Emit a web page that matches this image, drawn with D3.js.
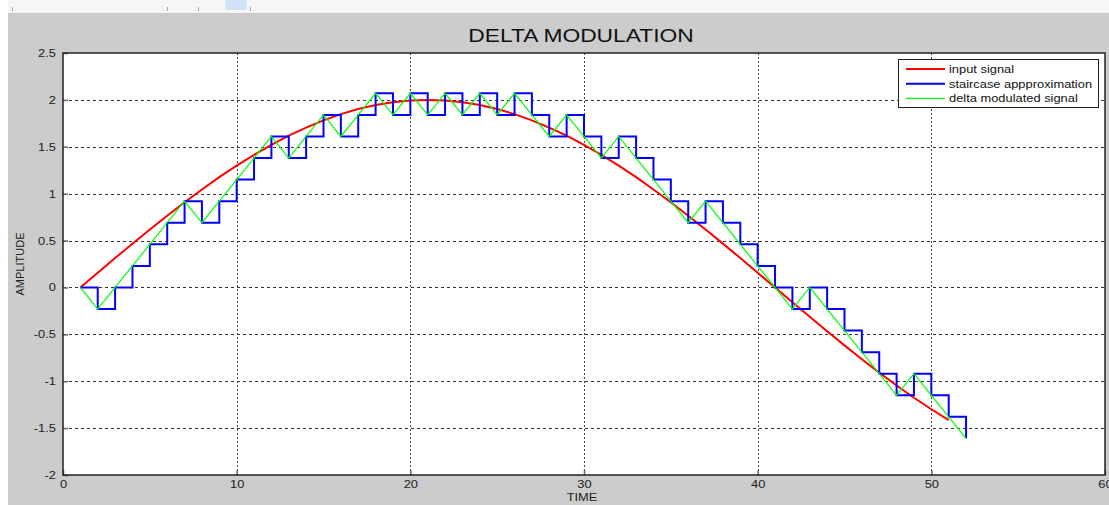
<!DOCTYPE html>
<html>
<head>
<meta charset="utf-8">
<script src="https://cdn.jsdelivr.net/npm/d3@7"></script>
<style>
  html, body { margin: 0; padding: 0; background: #ffffff; }
  svg { display: block; font-family: "Liberation Sans", Arial, sans-serif; }
</style>
</head>
<body>
<div id="chart"></div>
<script>
// sample index (time axis)
const inputTime = [1,2,3,4,5,6,7,8,9,10,11,12,13,14,15,16,17,18,19,20,21,22,23,24,25,26,27,28,29,30,
  31,32,33,34,35,36,37,38,39,40,41,42,43,44,45,46,47,48,49,50,51];
// input signal
const inputSignal = [0, 0.157, 0.313, 0.467, 0.618, 0.765, 0.908, 1.045, 1.176, 1.299, 1.414,
  1.521, 1.618, 1.705, 1.782, 1.848, 1.902, 1.945, 1.975, 1.994, 2.0,
  1.994, 1.975, 1.945, 1.902, 1.848, 1.782, 1.705, 1.618, 1.521, 1.414,
  1.299, 1.176, 1.045, 0.908, 0.765, 0.618, 0.467, 0.313, 0.157, 0,
  -0.157, -0.313, -0.467, -0.618, -0.765, -0.908, -1.045, -1.176, -1.299, -1.414];

const dmTime = [1,2,3,4,5,6,7,8,9,10,11,12,13,14,15,16,17,18,19,20,21,22,23,24,25,26,27,28,29,30,
  31,32,33,34,35,36,37,38,39,40,41,42,43,44,45,46,47,48,49,50,51,52];
// staircase / delta modulated levels (step about 0.23)
const dmSignal = [0, -0.23, 0, 0.23, 0.46, 0.69, 0.92, 0.69, 0.92, 1.15, 1.38, 1.61, 1.38, 1.61,
  1.84, 1.61, 1.84, 2.07, 1.84, 2.07, 1.84, 2.07, 1.84, 2.07, 1.84, 2.07, 1.84, 1.61, 1.84, 1.61,
  1.38, 1.61, 1.38, 1.15, 0.92, 0.69, 0.92, 0.69, 0.46, 0.23, 0, -0.23, 0, -0.23, -0.46, -0.69,
  -0.92, -1.15, -0.92, -1.15, -1.38, -1.61];

const xTicks = [0, 10, 20, 30, 40, 50, 60];
const yTicks = [-2, -1.5, -1, -0.5, 0, 0.5, 1, 1.5, 2, 2.5];
const legendLabels = ['input signal', 'staircase appproximation', 'delta modulated signal'];
const legendColors = ['#ff0000', '#0000ff', '#00ff00'];

const width = 1109, height = 505;
const plot = { left: 63, right: 1105, top: 53, bottom: 475 };
const stretch = 1.17; // the screenshot text is a bit wide

const svg = d3.select('#chart').append('svg')
  .attr('width', width)
  .attr('height', height);

// window chrome + figure background
svg.append('rect').attr('width', width).attr('height', height).attr('fill', '#ffffff');
svg.append('rect').attr('x', 8).attr('y', 0).attr('width', width - 8).attr('height', 13).attr('fill', '#f6f6f6');
svg.append('line').attr('x1', 8).attr('x2', width).attr('y1', 13.5).attr('y2', 13.5).attr('stroke', '#c8c8c8');
[12, 167, 198, 250].forEach(x => {
  svg.append('line').attr('x1', x + 0.5).attr('x2', x + 0.5).attr('y1', 7).attr('y2', 11).attr('stroke', '#aaa');
});
svg.append('rect').attr('x', 225).attr('y', 0).attr('width', 22).attr('height', 10).attr('rx', 3).attr('fill', '#cfe3f7');
svg.append('rect').attr('x', 8).attr('y', 14).attr('width', width - 8).attr('height', height - 14).attr('fill', '#cccccc');

const x = d3.scaleLinear().domain([0, 60]).range([plot.left, plot.right]);
const y = d3.scaleLinear().domain([-2, 2.5]).range([plot.bottom, plot.top]);

// axes area
svg.append('rect')
  .attr('x', plot.left).attr('y', plot.top)
  .attr('width', plot.right - plot.left).attr('height', plot.bottom - plot.top)
  .attr('fill', '#ffffff');

// grid
const grid = svg.append('g');
grid.selectAll('.vg').data(xTicks.slice(1, -1)).join('line')
  .attr('x1', d => Math.round(x(d)) + 0.5).attr('x2', d => Math.round(x(d)) + 0.5)
  .attr('y1', plot.top).attr('y2', plot.bottom)
  .attr('stroke', '#444').attr('stroke-width', 1).attr('stroke-dasharray', '2,2');
grid.selectAll('.hg').data(yTicks.slice(1, -1)).join('line')
  .attr('x1', plot.left).attr('x2', plot.right)
  .attr('y1', d => Math.round(y(d)) + 0.5).attr('y2', d => Math.round(y(d)) + 0.5)
  .attr('stroke', '#333').attr('stroke-width', 1).attr('stroke-dasharray', '3,3');

// axes (ticks inward)
const xAxis = d3.axisBottom(x).tickValues(xTicks).tickSize(-5).tickPadding(5).tickFormat(d3.format('d'));
const yAxis = d3.axisLeft(y).tickValues(yTicks).tickSize(-5).tickPadding(5).tickFormat(d => String(d));

const gx = svg.append('g').attr('transform', `translate(0,${plot.bottom})`).call(xAxis);
const gy = svg.append('g').attr('transform', `translate(${plot.left},0)`).call(yAxis);
[gx, gy].forEach(g => {
  g.select('.domain').remove();
  g.selectAll('.tick line').attr('stroke', '#666').attr('stroke-width', 1.5);
  g.selectAll('.tick text').attr('fill', '#222').style('font-size', '11px')
    .style('font-family', '"Liberation Sans", Arial, sans-serif')
    .attr('transform', `scale(${stretch},1)`);
});
gy.selectAll('.tick text').attr('x', -7 / stretch);

// box
svg.append('rect')
  .attr('x', plot.left).attr('y', plot.top)
  .attr('width', plot.right - plot.left).attr('height', plot.bottom - plot.top)
  .attr('fill', 'none').attr('stroke', '#222').attr('stroke-width', 1.5);

// series
const lineInput = d3.line().x((d, i) => x(inputTime[i])).y(d => y(d));
const lineStairs = d3.line().x((d, i) => x(dmTime[i])).y(d => y(d)).curve(d3.curveStepAfter);
const lineDelta = d3.line().x((d, i) => x(dmTime[i])).y(d => y(d));

svg.append('path').datum(inputSignal).attr('d', lineInput)
  .attr('fill', 'none').attr('stroke', legendColors[0]).attr('stroke-width', 2);
svg.append('path').datum(dmSignal).attr('d', lineStairs)
  .attr('fill', 'none').attr('stroke', legendColors[1]).attr('stroke-width', 2);
svg.append('path').datum(dmSignal).attr('d', lineDelta)
  .attr('fill', 'none').attr('stroke', legendColors[2]).attr('stroke-width', 1.2);

// titles
svg.append('text').attr('transform', `translate(581,42) scale(1.2,1)`).attr('text-anchor', 'middle')
  .attr('fill', '#111').style('font-size', '19px').text('DELTA MODULATION');
svg.append('text').attr('transform', `translate(582,501) scale(${stretch},1)`).attr('text-anchor', 'middle')
  .attr('fill', '#222').style('font-size', '11px').text('TIME');
svg.append('text').attr('transform', 'translate(24,264) rotate(-90)').attr('text-anchor', 'middle')
  .attr('fill', '#222').style('font-size', '11px').text('AMPLITUDE');

// legend
const legend = svg.append('g').attr('transform', 'translate(898,59)');
legend.append('rect').attr('x', 0.5).attr('y', 0.5).attr('width', 200).attr('height', 48)
  .attr('fill', '#ffffff').attr('stroke', '#222').attr('stroke-width', 1);
legendLabels.forEach((label, i) => {
  const row = legend.append('g').attr('transform', `translate(0,${10 + i * 14.7})`);
  row.append('line').attr('x1', 8).attr('x2', 47).attr('y1', 0).attr('y2', 0)
    .attr('stroke', legendColors[i]).attr('stroke-width', i === 2 ? 1.2 : 2);
  row.append('text').attr('transform', `translate(51,4) scale(${stretch},1)`).attr('fill', '#111')
    .style('font-size', '11px').text(label);
});
</script>
</body>
</html>
